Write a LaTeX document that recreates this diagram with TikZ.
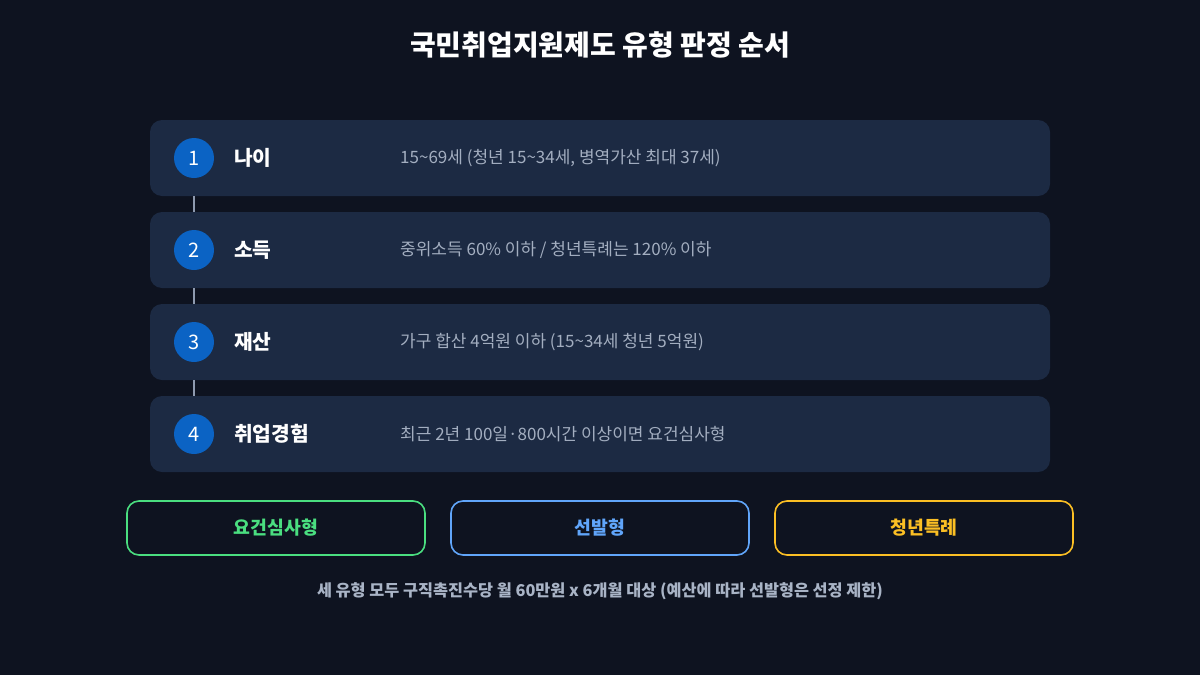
\documentclass[tikz,border=0pt]{standalone}
\usepackage{fontspec}
\setmainfont{Noto Sans CJK KR}
\usetikzlibrary{calc}
\usetikzlibrary{positioning}
\definecolor{bgdark}{HTML}{0E1320}
\definecolor{rowfill}{HTML}{1C2A43}
\definecolor{stepblue}{HTML}{0B63C4}
\definecolor{descgray}{HTML}{A3AEC0}
\definecolor{linegray}{HTML}{8E9AAF}
\definecolor{typegreen}{HTML}{4ADE80}
\definecolor{typeblue}{HTML}{60A5FA}
\definecolor{typeyellow}{HTML}{FBBF24}
\definecolor{footgray}{HTML}{A9B4C6}

\begin{document}
\begin{tikzpicture}[x=1pt,y=-1pt,
  rowbox/.style={fill=rowfill,rounded corners=12pt,minimum width=900pt,minimum height=76pt,inner sep=0pt},
  stepnum/.style={circle,fill=stepblue,minimum size=40pt,inner sep=0pt,text=white,font=\fontsize{20}{20}\selectfont},
  steplabel/.style={anchor=west,text=white,font=\fontsize{20.3}{20}\selectfont\bfseries,inner sep=0pt},
  stepdesc/.style={anchor=west,text=descgray,font=\fontsize{17}{17}\selectfont,inner sep=0pt},
  typebox/.style={draw=#1,line width=1.6pt,fill=bgdark,rounded corners=12pt,minimum width=298pt,minimum height=54pt,text=#1,font=\fontsize{18.3}{18}\selectfont\bfseries},
  link/.style={linegray,line width=2pt}]
\fill[bgdark] (0,0) rectangle (1200,675);
\useasboundingbox (0,0) rectangle (1200,675);
\node[text=white,font=\fontsize{28}{28}\selectfont\bfseries] (title) at (600,45) {국민취업지원제도 유형 판정 순서};
% rows
\node[rowbox] (r1) at (600,158) {};
\node[rowbox] (r2) at (600,250) {};
\node[rowbox] (r3) at (600,342) {};
\node[rowbox] (r4) at (600,434) {};
\node[stepnum] (n1) at (194,158) {1};
\node[stepnum] (n2) at (194,250) {2};
\node[stepnum] (n3) at (194,342) {3};
\node[stepnum] (n4) at (194,434) {4};
\node[steplabel] (l1) at (234,158) {나이};
\node[steplabel] (l2) at (234,250) {소득};
\node[steplabel] (l3) at (234,342) {재산};
\node[steplabel] (l4) at (234,434) {취업경험};
\node[stepdesc] (d1) at (400,158) {15\textasciitilde69세 (청년 15\textasciitilde34세, 병역가산 최대 37세)};
\node[stepdesc] (d2) at (400,250) {중위소득 60\% 이하 / 청년특례는 120\% 이하};
\node[stepdesc] (d3) at (400,342) {가구 합산 4억원 이하 (15\textasciitilde34세 청년 5억원)};
\node[stepdesc] (d4) at (400,434) {최근 2년 100일·800시간 이상이면 요건심사형};
\draw[link] (r1.south -| n1) -- (r2.north -| n1);
\draw[link] (r2.south -| n2) -- (r3.north -| n2);
\draw[link] (r3.south -| n3) -- (r4.north -| n3);
% types
\node[typebox=typegreen] (t1) at (276,528) {요건심사형};
\node[typebox=typeblue] (t2) at (600,528) {선발형};
\node[typebox=typeyellow] (t3) at (924,528) {청년특례};
\node[text=footgray,font=\fontsize{16.3}{16}\selectfont\bfseries] (foot) at (600,591) {세 유형 모두 구직촉진수당 월 60만원 x 6개월 대상 (예산에 따라 선발형은 선정 제한)};
\end{tikzpicture}
\end{document}
